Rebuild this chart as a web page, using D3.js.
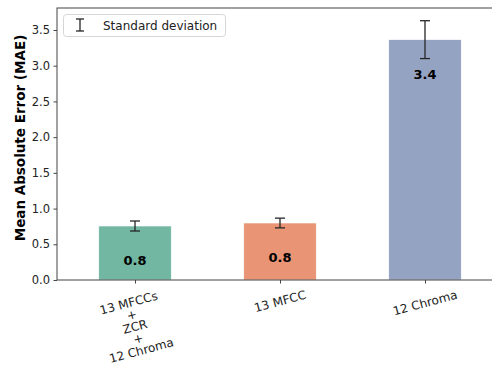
<!DOCTYPE html>
<html>
<head>
<meta charset="utf-8">
<script src="https://cdn.jsdelivr.net/npm/d3@7"></script>
<style>
  html, body { margin: 0; padding: 0; background: #fff; }
  svg { display: block; font-family: "DejaVu Sans", sans-serif; }
</style>
</head>
<body>
<svg id="chart" width="492" height="366"></svg>
<script>
// Feature sets compared and their mean absolute error
const categories = [
  ["13 MFCCs", "+", "ZCR", "+", "12 Chroma"],
  ["13 MFCC"],
  ["12 Chroma"]
];
const maeValues = [0.756, 0.798, 3.365];
const stdValues = [0.07, 0.068, 0.265];
const barColors = ["#71b7a1", "#e99575", "#95a3c3"];
const yTicks = [0, 0.5, 1.0, 1.5, 2.0, 2.5, 3.0, 3.5];
const yLabel = "Mean Absolute Error (MAE)";
const legendLabel = "Standard deviation";

const svg = d3.select("#chart");
const plot = { left: 57, right: 503, top: 8, bottom: 280 };

const idx = categories.map((_, i) => i);
const x = d3.scalePoint().domain(idx).range([plot.left, plot.right]).padding(0.538);
const barW = x.step() * 0.5;
const y = d3.scaleLinear().domain([0, 3.808]).range([plot.bottom, plot.top]);

const spine = "#444";

// bars
svg.append("g").selectAll("rect").data(maeValues).join("rect")
  .attr("x", (d, i) => x(i) - barW / 2)
  .attr("y", d => y(d))
  .attr("width", barW)
  .attr("height", d => y(0) - y(d))
  .attr("fill", (d, i) => barColors[i])
  .attr("stroke", "#ffffff")
  .attr("stroke-width", 0.6);

// error bars
const eb = svg.append("g").attr("stroke", "#262626").attr("stroke-width", 1.3).attr("fill", "none");
maeValues.forEach((v, i) => {
  const cx = x(i), lo = y(v - stdValues[i]), hi = y(v + stdValues[i]);
  eb.append("line").attr("x1", cx).attr("x2", cx).attr("y1", lo).attr("y2", hi);
  eb.append("line").attr("x1", cx - 5).attr("x2", cx + 5).attr("y1", lo).attr("y2", lo);
  eb.append("line").attr("x1", cx - 5).attr("x2", cx + 5).attr("y1", hi).attr("y2", hi);
});

// value labels inside the bars
svg.append("g").selectAll("text").data(maeValues).join("text")
  .attr("x", (d, i) => x(i))
  .attr("y", d => y(d) + 39)
  .attr("text-anchor", "middle")
  .attr("font-weight", "bold")
  .attr("font-size", 13)
  .attr("fill", "#000")
  .text(d => d3.format(".1f")(d));

// y axis
const yAxis = svg.append("g")
  .attr("transform", `translate(${plot.left},0)`)
  .call(d3.axisLeft(y).tickValues(yTicks).tickFormat(d3.format(".1f")).tickSize(3.5).tickPadding(3.5));
yAxis.select(".domain").remove();
yAxis.selectAll("line").attr("stroke", spine);
yAxis.selectAll("text").attr("font-size", 11.5).attr("fill", "#222").attr("font-family", "DejaVu Sans");

// x axis ticks
const xAxis = svg.append("g")
  .attr("transform", `translate(0,${plot.bottom})`)
  .call(d3.axisBottom(x).tickSize(3.5).tickFormat(""));
xAxis.select(".domain").remove();
xAxis.selectAll("line").attr("stroke", spine);

// rotated, multi-line category labels (one text element per line)
const rot = 15 * Math.PI / 180;
const labelTop = 287.5;
const lh = 12.3;
categories.forEach((lines, i) => {
  const g = svg.append("g");
  lines.forEach((ln, k) => {
    g.append("text")
      .attr("x", 0)
      .attr("y", (k - (lines.length - 1) / 2) * lh + 4.3)
      .attr("text-anchor", "middle")
      .attr("font-size", 12)
      .attr("fill", "#222")
      .text(ln);
  });
  const bb = g.node().getBBox();
  const H = bb.width * Math.sin(rot) + bb.height * Math.cos(rot);
  g.attr("transform", `translate(${x(i)},${labelTop + H / 2}) rotate(-15)`);
});

// frame
svg.append("rect")
  .attr("x", plot.left).attr("y", plot.top)
  .attr("width", plot.right - plot.left).attr("height", plot.bottom - plot.top)
  .attr("fill", "none").attr("stroke", spine).attr("stroke-width", 1);

// y axis title
svg.append("text")
  .attr("transform", `translate(25,${(plot.top + plot.bottom) / 2 - 6}) rotate(-90)`)
  .attr("text-anchor", "middle")
  .attr("font-weight", "bold")
  .attr("font-size", 13.5)
  .attr("fill", "#000")
  .text(yLabel);

// legend
const lg = svg.append("g");
lg.append("rect")
  .attr("x", 63.5).attr("y", 14.5).attr("width", 162).attr("height", 22)
  .attr("rx", 3).attr("fill", "#fff").attr("fill-opacity", 0.8)
  .attr("stroke", "#d6d6d6");
const lgx = 80, lgTop = 19, lgBot = 31;
lg.append("line").attr("x1", lgx).attr("x2", lgx).attr("y1", lgTop).attr("y2", lgBot).attr("stroke", "#262626").attr("stroke-width", 1.3);
lg.append("line").attr("x1", lgx - 4).attr("x2", lgx + 4).attr("y1", lgTop).attr("y2", lgTop).attr("stroke", "#262626").attr("stroke-width", 1.3);
lg.append("line").attr("x1", lgx - 4).attr("x2", lgx + 4).attr("y1", lgBot).attr("y2", lgBot).attr("stroke", "#262626").attr("stroke-width", 1.3);
lg.append("text")
  .attr("x", 103).attr("y", 29.5)
  .attr("font-size", 12)
  .attr("fill", "#222")
  .text(legendLabel);
</script>
</body>
</html>
